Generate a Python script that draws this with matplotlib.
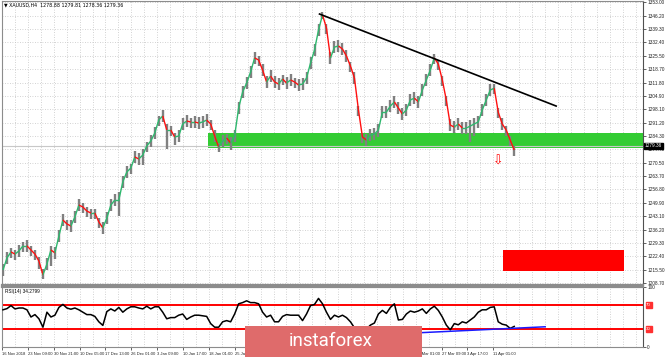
import numpy as np
import matplotlib
matplotlib.use("Agg")
import matplotlib.pyplot as plt
from matplotlib.patches import Rectangle
from matplotlib.collections import LineCollection

# XAUUSD H4, one sample every ~5 bars (price)
close = [1215.4, 1221.6, 1224.7, 1223.6, 1225.2, 1227.8, 1227.8, 1225.7,
         1223.6, 1220.0, 1212.9, 1218.5, 1225.7, 1224.2, 1232.9, 1241.1,
         1239.1, 1238.0, 1242.7, 1248.8, 1247.8, 1245.7, 1244.7, 1244.7,
         1240.1, 1237.0, 1242.1, 1248.8, 1251.4, 1251.4, 1260.7, 1265.8,
         1267.8, 1273.5, 1272.5, 1274.5, 1279.2, 1281.7, 1285.8, 1292.5,
         1294.6, 1287.4, 1287.4, 1283.8, 1284.3, 1290.5, 1292.0, 1291.5,
         1291.5, 1291.0, 1291.5, 1292.5, 1290.5, 1284.3, 1278.6, 1281.7,
         1283.3, 1280.7, 1284.3, 1298.7, 1306.9, 1311.5, 1317.2, 1324.4,
         1323.4, 1318.2, 1312.1, 1315.1, 1312.1, 1311.0, 1313.6, 1311.5,
         1313.1, 1312.1, 1310.5, 1311.0, 1314.1, 1321.8, 1328.5, 1338.8,
         1346.5, 1339.8, 1324.4, 1330.0, 1330.6, 1329.0, 1325.4, 1320.3,
         1314.1, 1297.7, 1283.8, 1282.2, 1284.8, 1285.3, 1287.4, 1296.6,
         1296.6, 1299.7, 1301.8, 1298.7, 1295.6, 1297.7, 1302.8, 1303.8,
         1301.8, 1307.9, 1313.1, 1318.2, 1324.4, 1321.3, 1313.1, 1302.8,
         1289.9, 1288.9, 1290.5, 1288.4, 1288.4, 1289.4, 1290.5, 1291.5,
         1297.7, 1302.8, 1307.9, 1308.9, 1296.6, 1290.5, 1287.4, 1282.2,
         1277.1]
# wick extents above / below the line
up = [3, 3, 2, 2, 3, 2, 3, 2, 2, 2, 3, 3, 2, 3, 3, 3,
      2, 3, 3, 3, 2, 2, 2, 2, 2, 3, 3, 3, 3, 4, 3, 3,
      2, 3, 3, 3, 2, 3, 3, 2, 3, 3, 2, 2, 3, 3, 3, 2,
      3, 3, 3, 3, 2, 3, 2, 3, 2, 3, 3, 3, 3, 3, 3, 3,
      2, 3, 3, 3, 3, 3, 2, 3, 3, 2, 3, 3, 3, 3, 3, 3,
      1.5, 2, 3, 3, 3, 3, 3, 2, 3, 2, 2, 3, 3, 3, 3, 3,
      3, 3, 3, 3, 3, 3, 3, 3, 3, 3, 3, 3, 2, 2, 2, 2,
      3, 3, 3, 3, 3, 3, 3, 3, 3, 3, 3, 2, 2, 3, 2, 2,
      2]
dn = [3, 3, 3, 3, 3, 3, 3, 3, 3, 4, 2, 3, 8, 3, 3, 3,
      3, 3, 3, 3, 3, 3, 3, 3, 3, 3, 3, 3, 3, 8, 3, 3,
      3, 3, 3, 5, 3, 3, 3, 3, 3, 10, 3, 4, 3, 3, 3, 3,
      3, 3, 3, 3, 3, 3, 2.5, 3, 3, 3.5, 3, 3, 3, 3, 3, 3,
      3, 3, 3, 3, 3, 3, 3, 3, 3, 3, 3, 3, 3, 3, 3, 3,
      2, 3, 3, 3, 3, 3, 3, 3, 3, 3, 3, 3, 3, 3, 3.5, 3,
      3, 3, 3, 3, 3, 3, 3, 3, 3, 3, 3, 3, 3, 3, 3, 3,
      3, 3, 3, 3, 3, 8, 6, 3, 3, 3, 3, 3, 3, 3, 3, 3,
      3]
rsi = [62, 64, 69, 63.5, 65, 65, 62, 50, 54, 47, 33, 58, 50, 53, 66, 71,
       65, 63, 65, 62, 58, 54, 54, 51, 42, 36, 59, 63.5, 60, 66, 58, 63.5,
       67, 67, 65, 63.5, 68, 63.5, 67, 67, 58, 47, 49, 49, 53, 55, 46, 50,
       53, 53, 52, 51, 39, 33, 33, 42, 44, 42, 55, 72, 74, 77, 74, 74, 72, 58,
       50, 53, 42, 42, 51, 54, 53, 53, 53, 44, 55, 69, 71, 81, 72, 58, 46, 53,
       50, 53, 49, 42, 32, 27, 25, 30, 36.5, 40, 55, 61, 56, 66, 72, 45, 46,
       55, 60, 58, 60, 63.5, 56, 63.5, 68, 61, 50, 36.5, 28.5, 39, 37, 42, 40,
       45, 50, 58, 62, 62, 66, 67, 42, 38, 36.5, 31, 34.3]

price_ticks = [1208.70, 1215.50, 1222.40, 1229.30, 1236.20, 1243.10, 1249.90,
               1256.80, 1263.70, 1270.50, 1277.40, 1284.30, 1291.20, 1298.10,
               1304.90, 1311.80, 1318.70, 1325.50, 1332.40, 1339.30, 1346.20,
               1353.00]
date_labels = ["16 Nov 2018", "23 Nov 09:00", "30 Nov 21:00", "10 Dec 05:00",
               "17 Dec 13:00", "26 Dec 01:00", "3 Jan 09:00", "10 Jan 17:00",
               "18 Jan 01:00", "25 Jan 09:00", "1 Feb 17:00", "11 Feb 09:00",
               "18 Feb 17:00", "26 Feb 01:00", "5 Mar 09:00", "12 Mar 17:00",
               "20 Mar 01:00", "27 Mar 09:00", "3 Apr 17:00", "11 Apr 01:00"]

zone = (1278.1, 1285.8, 51.3)          # support zone: low, high, start
target = (1215.0, 1225.7, 125.2, 155.5)  # red target box: low, high, x0, x1
trend = ((79.25, 1347.0), (138.5, 1299.7))
rsi_trend = ((96.5, 21.3), (135.75, 33.7))
arrow_at = (124.0, 1271.4)
last_price = 1279.36

W, H = 665, 357
SMALL = dict(family="Liberation Sans")
fig = plt.figure(figsize=(W / 100, H / 100), dpi=100)


def box(x0, y0, x1, y1):
    return [x0 / W, 1 - y1 / H, (x1 - x0) / W, (y1 - y0) / H]


ax = fig.add_axes(box(2, 1, 643, 285))
ar = fig.add_axes(box(2, 287, 643, 347), sharex=ax)

n = len(close)
x = np.arange(n)
c = np.array(close)
XMAX = 160.25
ax.set_xlim(0, XMAX)
ax.set_ylim(1207.7, 1353.7)
ar.set_ylim(0, 100)

grid_kw = dict(color="#c4c4c4", lw=0.6, ls=(0, (1, 2)), zorder=0)
step = 6.475  # index units between date labels
for m in range(0, 52):
    gx = step / 2 * m - 0.25
    if 0 < gx < XMAX:
        ax.axvline(gx, **grid_kw)
        ar.axvline(gx, **grid_kw)
for p in price_ticks:
    ax.axhline(p, **grid_kw)

# zones
ax.add_patch(Rectangle((zone[2], zone[0]), XMAX - zone[2], zone[1] - zone[0],
                       color="#33cc33", zorder=1, lw=0))
ax.add_patch(Rectangle((target[2], target[0]), target[3] - target[2],
                       target[1] - target[0], color="#ff0000", zorder=1, lw=0))
ax.axhline(last_price, color="#c8c8c8", lw=0.8, zorder=1.5)

# price
ax.vlines(x, c - np.array(dn), c + np.array(up), color="#808080", lw=1.7, zorder=3)
pts = np.column_stack([x, c])
segs = np.stack([pts[:-1], pts[1:]], axis=1)
cols = ["#2eb86e" if b >= a else "#ff1010" for a, b in zip(close[:-1], close[1:])]
ax.add_collection(LineCollection(segs, colors=cols, linewidths=1.0, zorder=4))

ax.plot([trend[0][0], trend[1][0]], [trend[0][1], trend[1][1]], color="black",
        lw=1.2, zorder=5)
ax.text(arrow_at[0], arrow_at[1], "\u21e9", color="red", fontsize=9,
        ha="center", va="center", zorder=6)

# RSI
ar.axhline(70, color="red", lw=1.4, zorder=2)
ar.axhline(30, color="red", lw=1.4, zorder=2)
ar.plot(x, rsi, color="black", lw=1.1, zorder=3)
ar.plot([rsi_trend[0][0], rsi_trend[1][0]], [rsi_trend[0][1], rsi_trend[1][1]],
        color="#1a1aff", lw=1.1, zorder=4)

# axes styling
for a in (ax, ar):
    a.yaxis.tick_right()
    for s in ("left", "top", "bottom"):
        a.spines[s].set_color("#8c8c8c")
    a.spines["right"].set_color("#505050")
    a.tick_params(axis="both", labelsize=3.4, length=2, width=0.5, pad=1.0,
                  colors="#222222")
    for lab in a.get_yticklabels() + a.get_xticklabels():
        lab.set_family("Liberation Sans")
ax.spines["bottom"].set_linewidth(1.6)
ar.spines["top"].set_linewidth(1.6)
ax.set_yticks(price_ticks)
ax.set_yticklabels([f"{p:.2f}" for p in price_ticks], **SMALL)
ax.tick_params(axis="x", bottom=False, labelbottom=False)

ar.set_yticks([0, 100])
ar.set_yticklabels(["0", "100"], **SMALL)
for lvl in (70, 30):
    ar.text(XMAX + 0.8, lvl, str(lvl), fontsize=3.2, color="white", va="center",
            ha="left", bbox=dict(boxstyle="square,pad=0.15", fc="#ff3030",
                                 ec="#ff3030"), clip_on=False, **SMALL)
ax.text(XMAX + 0.5, last_price, f"{last_price:.2f}", fontsize=3.4, color="white",
        va="center", ha="left", bbox=dict(boxstyle="square,pad=0.12", fc="black",
                                          ec="black"), clip_on=False, zorder=10,
        **SMALL)

ar.set_xticks([step * k - 0.25 for k in range(len(date_labels))])
ar.set_xticklabels(date_labels, ha="left", **SMALL)
ar.tick_params(axis="x", labelsize=3.0, pad=1.5)

fig.text(4 / W, 1 - 5 / H, "\u25bc XAUUSD,H4  1278.88 1279.81 1278.36 1279.36",
         fontsize=3.4, va="center", ha="left")
ar.text(0.6, 96, "RSI(14) 34.2799", fontsize=3.4, va="top", ha="left", **SMALL)

# watermark
fig.patches.append(Rectangle((245 / W, 0), 177 / W, 31 / H, transform=fig.transFigure,
                             fc="#df6b6b", ec="none", zorder=20))
fig.text(331 / W, 1 - 341 / H, "instaforex", color="white", fontsize=13.5,
         family="Roboto", ha="center", va="center", zorder=21)

fig.savefig("out.png", dpi=100)
